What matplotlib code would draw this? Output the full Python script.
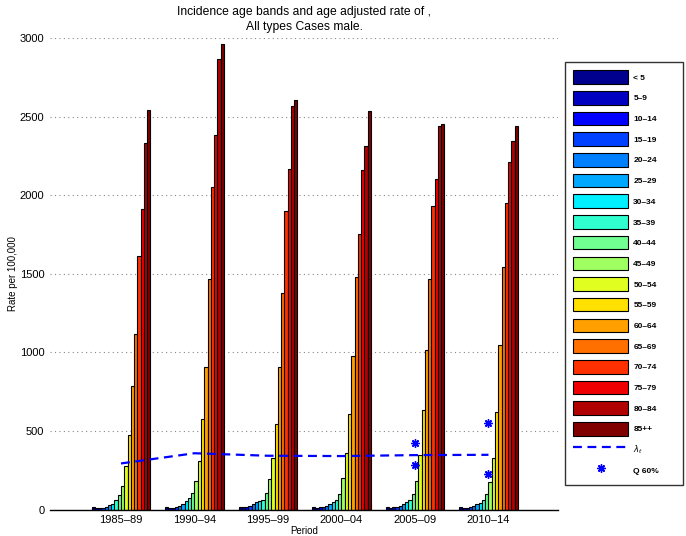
import numpy as np
import matplotlib
matplotlib.use("Agg")
import matplotlib.pyplot as plt
from matplotlib.patches import Patch
from matplotlib.lines import Line2D

plt.rcParams['font.family'] = ['Liberation Sans', 'DejaVu Sans']

periods = ["1985–89", "1990–94", "1995–99", "2000–04", "2005–09", "2010–14"]
age_groups = ["< 5", "5–9", "10–14", "15–19", "20–24", "25–29", "30–34", "35–39",
              "40–44", "45–49", "50–54", "55–59", "60–64", "65–69", "70–74",
              "75–79", "80–84", "85++"]

# rates per period (rows) by age group (columns)
rate_1985 = [16, 7, 8, 11, 18, 27, 38, 58, 92, 150, 275, 477, 788, 1115, 1612, 1913, 2333, 2545]
rate_1990 = [13, 8, 11, 15, 21, 38, 51, 72, 104, 183, 306, 575, 904, 1467, 2051, 2382, 2868, 2960]
rate_1995 = [19, 15, 17, 21, 38, 49, 55, 59, 108, 191, 327, 544, 907, 1380, 1900, 2168, 2565, 2607]
rate_2000 = [17, 11, 13, 17, 25, 34, 45, 59, 98, 200, 361, 607, 979, 1478, 1752, 2159, 2316, 2537]
rate_2005 = [17, 11, 13, 17, 25, 34, 45, 59, 98, 180, 348, 631, 1013, 1469, 1928, 2100, 2437, 2452]
rate_2010 = [16, 10, 12, 15, 21, 32, 42, 59, 96, 176, 325, 620, 1045, 1546, 1947, 2212, 2344, 2437]
rates = np.array([rate_1985, rate_1990, rate_1995, rate_2000, rate_2005, rate_2010])

lambda_t = [293, 358, 342, 340, 346, 348]
q60_x = [5, 5, 6, 6]
q60_y = [425, 285, 553, 226]

yticks = [0, 500, 1000, 1500, 2000, 2500, 3000]

colors = ["#00008f", "#0000c0", "#0000ff", "#0040ff", "#0080ff", "#00a8ff",
          "#00f0ff", "#30ffd0", "#70ff90", "#a0ff60", "#e0ff20", "#ffe000",
          "#ffa000", "#ff7000", "#ff3000", "#f00000", "#b00000", "#800000"]

fig = plt.figure(figsize=(6.86, 5.36), dpi=100)
ax = fig.add_axes([50/686, 26.5/536, 508/686, 471.5/536])

x = np.arange(1, len(periods) + 1)
n = len(age_groups)
gw = 0.8
bw = gw / n
for i in range(n):
    offs = -gw/2 + bw*(i + 0.5)
    ax.bar(x + offs, rates[:, i], width=bw, color=colors[i], edgecolor='black',
           linewidth=0.8, zorder=2)

ax.plot(x, lambda_t, linestyle=(0, (4, 2.5)), color='#0000ff', linewidth=1.6, zorder=3)
ax.plot(q60_x, q60_y, linestyle='none', marker=(8, 2, 0), markersize=6,
        markeredgewidth=1.0, color='#0000ff', zorder=4)

ax.set_xlim(0.034, 6.946)
ax.set_ylim(0, 3000)
ax.set_xticks(x)
ax.set_xticklabels(periods, fontsize=8)
ax.set_yticks(yticks)
ax.set_yticklabels([str(v) for v in yticks], fontsize=8)
ax.tick_params(axis='both', length=0, pad=4)
ax.yaxis.grid(True, linestyle=(0, (1, 3)), color='#888888', linewidth=0.8, zorder=0)
ax.set_axisbelow(True)
for s in ['top', 'right', 'left']:
    ax.spines[s].set_visible(False)
ax.spines['bottom'].set_linewidth(1.0)
ax.spines['bottom'].set_zorder(5)

ax.set_ylabel("Rate per 100,000", fontsize=7, labelpad=1)
ax.set_xlabel("Period", fontsize=7, labelpad=1)
ax.set_title("Incidence age bands and age adjusted rate of ,\nAll types Cases male.",
             fontsize=8.7, pad=6, linespacing=1.35)

handles = [Patch(facecolor=colors[i], edgecolor='black', linewidth=0.8) for i in range(n)]
handles.append(Line2D([], [], linestyle=(0, (4, 2.5)), color='#0000ff', linewidth=1.6))
handles.append(Line2D([], [], linestyle='none', marker=(8, 2, 0), markersize=6,
                      markeredgewidth=1.0, color='#0000ff'))
labels = age_groups + [r"$\lambda_t$", "Q 60%"]

leg = fig.legend(handles, labels, loc='upper left',
                 bbox_to_anchor=(565/686, 1 - 62/536 - 0.01, (683-565)/686, 0.01),
                 mode='expand', borderaxespad=0, prop={'size': 6, 'weight': 'bold'},
                 handlelength=6.6, handleheight=2.12, labelspacing=0.86,
                 handletextpad=0.6, borderpad=1.0, fancybox=False, frameon=True)
leg.get_frame().set_edgecolor('black')
leg.get_frame().set_linewidth(1.0)

fig.savefig("out.png", dpi=100)
